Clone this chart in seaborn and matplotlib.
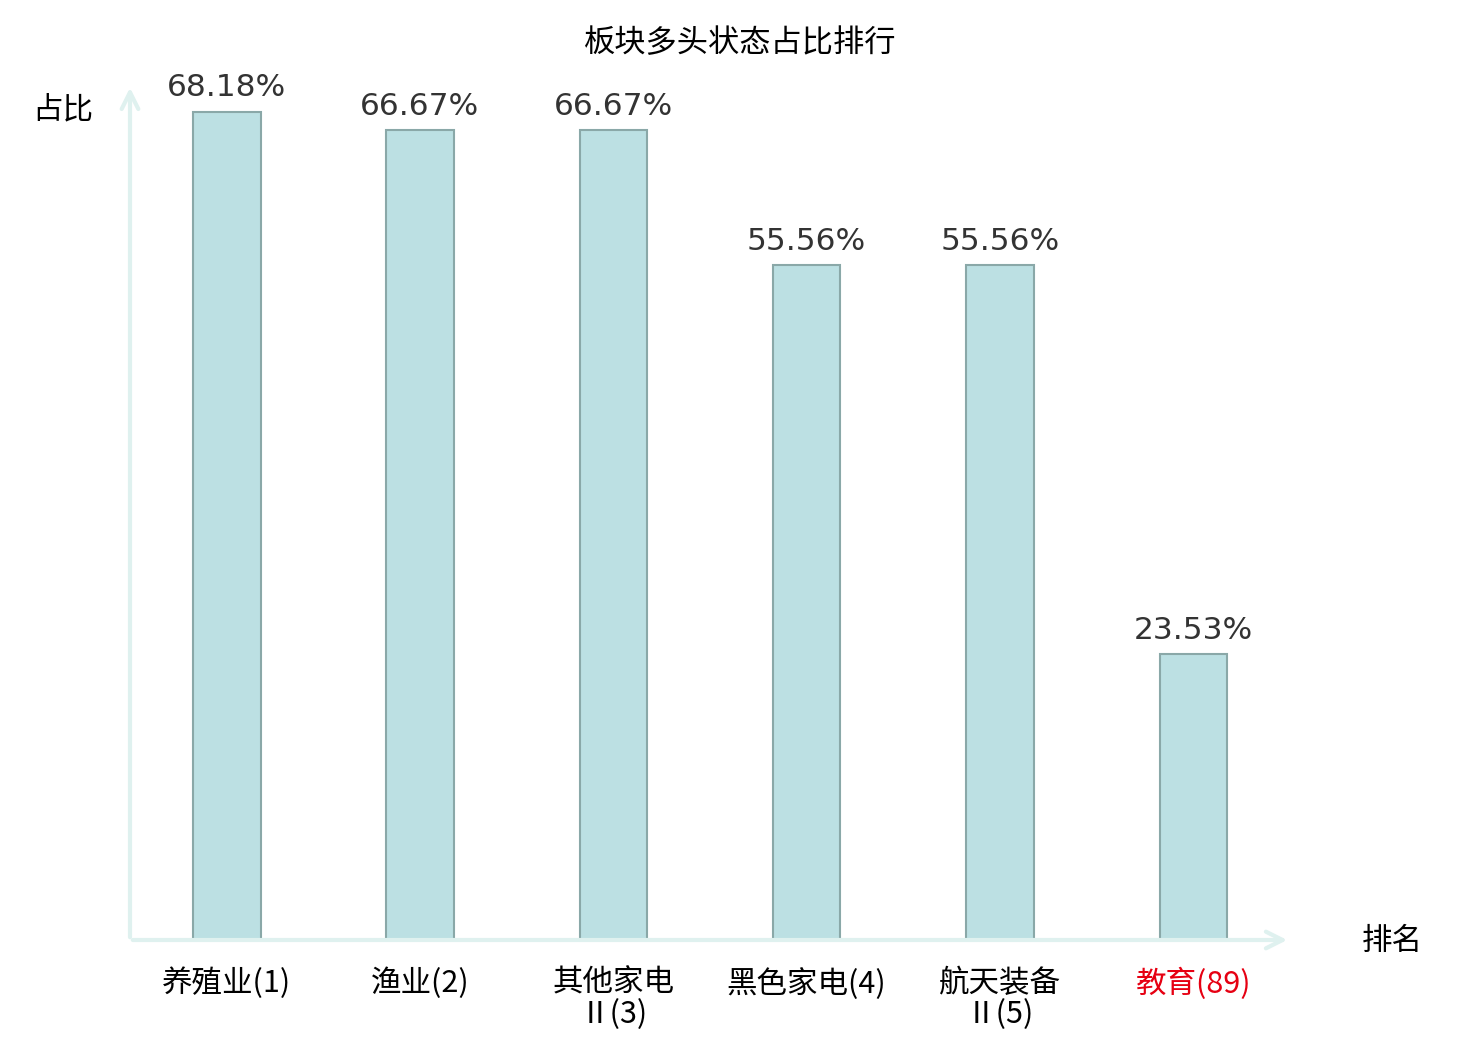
import matplotlib
matplotlib.use('Agg')
import matplotlib.pyplot as plt
import seaborn as sns
import pandas as pd

# chart data
categories = ['养殖业(1)', '渔业(2)', '其他家电\nⅡ(3)', '黑色家电(4)', '航天装备\nⅡ(5)', '教育(89)']
ratios = [68.18, 66.67, 66.67, 55.56, 55.56, 23.53]
value_labels = ['68.18%', '66.67%', '66.67%', '55.56%', '55.56%', '23.53%']

sns.set_style('white')
plt.rcParams['font.family'] = ['Noto Sans CJK SC', 'DejaVu Sans']
plt.rcParams['text.color'] = 'black'
plt.rcParams['xtick.color'] = 'black'

df = pd.DataFrame({'板块': categories, '占比': ratios})

fig = plt.figure(figsize=(14.8, 10.4), dpi=100)
ax = fig.add_axes([130 / 1480, 100 / 1040, 1160 / 1480, 850 / 1040])

sns.barplot(data=df, x='板块', y='占比', ax=ax, color='#bce0e3', saturation=1,
            width=0.35, edgecolor='#8aa8a8', linewidth=1.5)

ax.set_xlim(-0.5, 5.5)
ax.set_ylim(0, 70)
for s in ax.spines.values():
    s.set_visible(False)
ax.set_yticks([])
ax.set_xlabel('')
ax.set_ylabel('')
ax.tick_params(axis='x', length=0, pad=20, labelsize=22, labelcolor='black')
for t in ax.get_xticklabels():
    t.set_linespacing(1.0)
    t.set_verticalalignment('top')
ax.get_xticklabels()[-1].set_color('#e60012')

# axis arrows
axis_col = '#dff1ef'
ax.annotate('', xy=(1, 0), xytext=(0, 0), xycoords='axes fraction',
            arrowprops=dict(arrowstyle='->', color=axis_col, lw=3, mutation_scale=30))
ax.annotate('', xy=(0, 1.006), xytext=(0, 0), xycoords='axes fraction',
            arrowprops=dict(arrowstyle='->', color=axis_col, lw=3, mutation_scale=30))

for i, (v, lab) in enumerate(zip(ratios, value_labels)):
    ax.annotate(lab, (i, v), xytext=(0, 7), textcoords='offset points',
                ha='center', va='bottom', fontsize=22.5, color='#333333',
                family='DejaVu Sans')

fig.text(0.5, 1 - 43 / 1040, '板块多头状态占比排行', ha='center', va='center', fontsize=22.5)
fig.text(63 / 1480, 1 - 110 / 1040, '占比', ha='center', va='center', fontsize=22)
fig.text(1392 / 1480, 1 - 941 / 1040, '排名', ha='center', va='center', fontsize=22)

fig.savefig('out.png', dpi=100)
